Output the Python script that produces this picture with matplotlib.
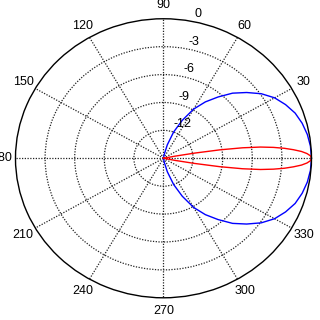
import numpy as np
import matplotlib
matplotlib.use("Agg")
import matplotlib.pyplot as plt

plt.rcParams['font.family'] = ['Liberation Sans', 'DejaVu Sans']

# broad pattern (blue), dB vs angle in degrees
blue_deg = [-90, -85, -80, -75, -70, -65, -60, -55, -50, -45, -40, -35, -30, -25, -20, -15, -10, -5,
            0, 5, 10, 15, 20, 25, 30, 35, 40, 45, 50, 55, 60, 65, 70, 75, 80, 85, 90]
blue_db = [-15, -15, -14.6, -13.5, -12.0, -10.5, -8.9, -7.6, -6.4, -5.1, -4.0, -2.9, -2.0, -1.35, -0.8, -0.45, -0.2, -0.05,
           0, -0.05, -0.2, -0.45, -0.8, -1.35, -2.0, -2.9, -4.0, -5.1, -6.4, -7.6, -8.9, -10.5, -12.0, -13.5, -14.6, -15, -15]

# narrow pattern (red)
red_deg = [-12, -11, -10, -9, -8, -7, -6, -5, -4, -3, -2, -1,
           0, 1, 2, 3, 4, 5, 6, 7, 8, 9, 10, 11, 12]
red_db = [-15.0, -13.8, -11.8, -9.2, -6.9, -5.1, -3.8, -2.7, -1.8, -1.0, -0.45, -0.1,
          0, -0.1, -0.45, -1.0, -1.8, -2.7, -3.8, -5.1, -6.9, -9.2, -11.8, -13.8, -15.0]

theta_ticks = [0, 30, 60, 90, 120, 150, 180, 210, 240, 270, 300, 330]
r_ticks = [-12, -9, -6, -3, 0]
r_min, r_max = -15, 0

fig = plt.figure(figsize=(3.2, 3.2), dpi=100)
ax = fig.add_axes([0.0484, 0.0694, 0.925, 0.872], projection='polar')
ax.set_aspect('auto')

ax.plot(np.deg2rad(blue_deg), blue_db, color='#0000ff', lw=1.0)
ax.plot(np.deg2rad(red_deg), red_db, color='#ff0000', lw=1.0)

ax.set_ylim(r_min, r_max)
ax.set_xticks(np.deg2rad(theta_ticks))
ax.set_xticklabels([])
ax.set_yticks(r_ticks[:-1])
ax.set_yticklabels([])
ax.grid(True, color='#222222', linestyle=(0, (1, 1.2)), linewidth=0.9)
ax.spines['polar'].set_color('k')
ax.spines['polar'].set_linewidth(1.0)

# angle labels outside the circle
for t in theta_ticks:
    ax.text(np.deg2rad(t), r_max + 0.095 * (r_max - r_min), str(t), ha='center', va='center',
            fontsize=9, clip_on=False)

# radial labels
for v in r_ticks:
    ax.annotate(str(v), xy=(np.deg2rad(80), v), xytext=(3.5, 2.5), textcoords='offset points',
                ha='left', va='baseline', fontsize=9, annotation_clip=False)

fig.savefig('out.png', dpi=100)
